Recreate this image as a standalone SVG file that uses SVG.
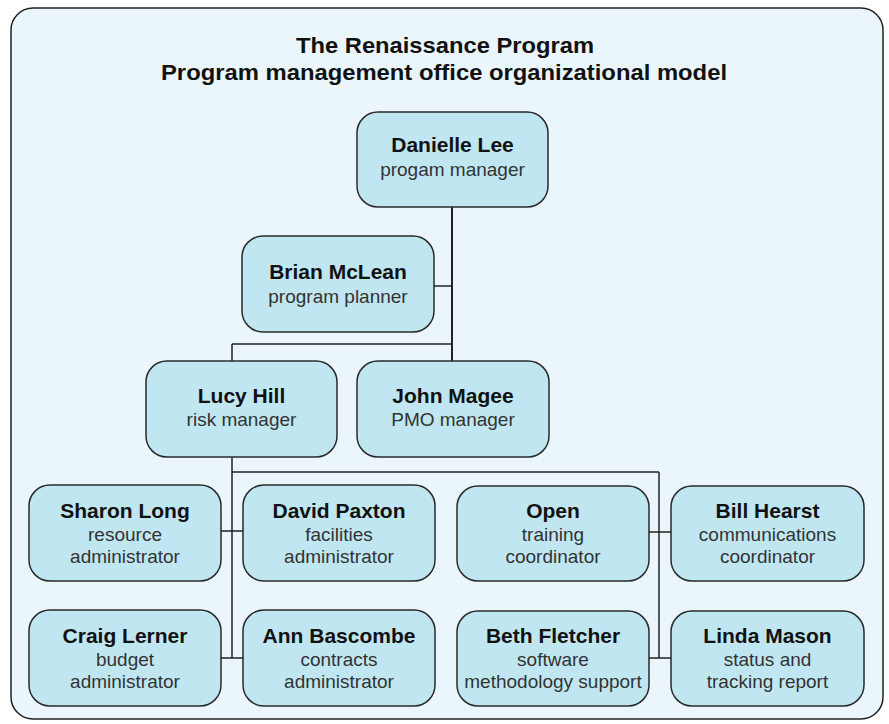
<svg xmlns="http://www.w3.org/2000/svg" width="889" height="724" viewBox="0 0 889 724">
<style>
.bg{fill:#eaf6fb;stroke:#222;stroke-width:1.5}
.node rect{fill:#c0e7f1;stroke:#2a2a2a;stroke-width:1.5}
.nm{font-family:"Liberation Sans",Arial,sans-serif;font-weight:bold;font-size:21px;fill:#111;text-anchor:middle}
.sb{font-family:"Liberation Sans",Arial,sans-serif;font-size:19px;fill:#333;text-anchor:middle}
.tt{font-family:"Liberation Sans",Arial,sans-serif;font-weight:bold;font-size:22px;fill:#111;text-anchor:middle}
.conn line{stroke:#222;stroke-width:1.5;fill:none}
</style>
<rect class="bg" x="11" y="8" width="872" height="711" rx="22"/>
<g id="title">
<text class="tt" x="445" y="53" textLength="298" lengthAdjust="spacingAndGlyphs">The Renaissance Program</text>
<text class="tt" x="444" y="80" textLength="566" lengthAdjust="spacingAndGlyphs">Program management office organizational model</text>
</g>
<g id="connectors" class="conn">
<line x1="452" y1="207" x2="452" y2="361" style="stroke-width:2"/>
<line x1="434" y1="286" x2="452" y2="286"/>
<line x1="232" y1="344" x2="452" y2="344"/>
<line x1="232" y1="344" x2="232" y2="361"/>
<line x1="232" y1="457" x2="232" y2="658"/>
<line x1="232" y1="472" x2="659" y2="472"/>
<line x1="659" y1="472" x2="659" y2="658"/>
<line x1="221" y1="531" x2="243" y2="531"/>
<line x1="221" y1="658" x2="243" y2="658"/>
<line x1="649" y1="532" x2="671" y2="532"/>
<line x1="649" y1="658" x2="671" y2="658"/>
</g>
<g id="danielle" class="node"><rect x="357" y="112" width="191" height="95" rx="21"/>
<text class="nm" x="452.5" y="152">Danielle Lee</text><text class="sb" x="452.5" y="176">progam manager</text></g>
<g id="brian" class="node"><rect x="242" y="236" width="192" height="96" rx="21"/>
<text class="nm" x="338" y="279">Brian McLean</text><text class="sb" x="338" y="303">program planner</text></g>
<g id="lucy" class="node"><rect x="146" y="361" width="191" height="96" rx="21"/>
<text class="nm" x="241.5" y="403">Lucy Hill</text><text class="sb" x="241.5" y="426">risk manager</text></g>
<g id="john" class="node"><rect x="357" y="361" width="192" height="96" rx="21"/>
<text class="nm" x="453" y="403">John Magee</text><text class="sb" x="453" y="426">PMO manager</text></g>
<g id="sharon" class="node"><rect x="29" y="485" width="192" height="96" rx="21"/>
<text class="nm" x="125" y="518">Sharon Long</text><text class="sb" x="125" y="541">resource</text><text class="sb" x="125" y="563">administrator</text></g>
<g id="david" class="node"><rect x="243" y="485" width="192" height="96" rx="21"/>
<text class="nm" x="339" y="518">David Paxton</text><text class="sb" x="339" y="541">facilities</text><text class="sb" x="339" y="563">administrator</text></g>
<g id="open" class="node"><rect x="457" y="486" width="192" height="95" rx="21"/>
<text class="nm" x="553" y="518">Open</text><text class="sb" x="553" y="541">training</text><text class="sb" x="553" y="563">coordinator</text></g>
<g id="bill" class="node"><rect x="671" y="486" width="193" height="95" rx="21"/>
<text class="nm" x="767.5" y="518">Bill Hearst</text><text class="sb" x="767.5" y="541">communications</text><text class="sb" x="767.5" y="563">coordinator</text></g>
<g id="craig" class="node"><rect x="29" y="610" width="192" height="96" rx="21"/>
<text class="nm" x="125" y="643">Craig Lerner</text><text class="sb" x="125" y="666">budget</text><text class="sb" x="125" y="688">administrator</text></g>
<g id="ann" class="node"><rect x="243" y="610" width="192" height="96" rx="21"/>
<text class="nm" x="339" y="643">Ann Bascombe</text><text class="sb" x="339" y="666">contracts</text><text class="sb" x="339" y="688">administrator</text></g>
<g id="beth" class="node"><rect x="457" y="611" width="192" height="95" rx="21"/>
<text class="nm" x="553" y="643">Beth Fletcher</text><text class="sb" x="553" y="666">software</text><text class="sb" x="553" y="688">methodology support</text></g>
<g id="linda" class="node"><rect x="671" y="611" width="193" height="95" rx="21"/>
<text class="nm" x="767.5" y="643">Linda Mason</text><text class="sb" x="767.5" y="666">status and</text><text class="sb" x="767.5" y="688">tracking report</text></g>
</svg>
